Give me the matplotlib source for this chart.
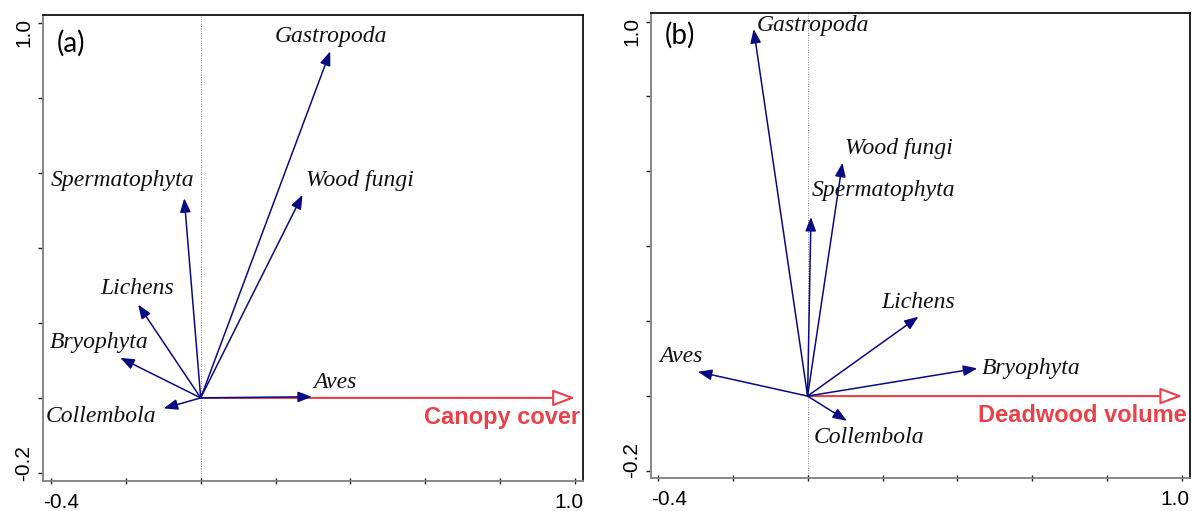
import matplotlib
matplotlib.use("Agg")
import matplotlib.pyplot as plt
from matplotlib.patches import FancyArrowPatch
import matplotlib.transforms as mtransforms

# ---------------- data ----------------
species_a = ["Gastropoda", "Wood fungi", "Spermatophyta", "Lichens", "Bryophyta", "Collembola", "Aves"]
x_a = [0.346, 0.272, -0.044, -0.167, -0.215, -0.099, 0.297]
y_a = [0.925, 0.542, 0.533, 0.249, 0.107, -0.028, 0.003]
env_a = "Canopy cover"
env_a_xy = (1.0, 0.0)

species_b = ["Gastropoda", "Wood fungi", "Spermatophyta", "Lichens", "Bryophyta", "Aves", "Collembola"]
x_b = [-0.144, 0.093, 0.009, 0.296, 0.453, -0.293, 0.105]
y_b = [0.980, 0.623, 0.478, 0.212, 0.074, 0.065, -0.066]
env_b = "Deadwood volume"
env_b_xy = (1.0, 0.0)

panel_tags = ["(a)", "(b)"]
xtick_vals = [-0.4, -0.2, 0.0, 0.2, 0.4, 0.6, 0.8, 1.0]
ytick_vals = [-0.2, 0.0, 0.2, 0.4, 0.6, 0.8, 1.0]
xtick_labels = ["-0.4", "1.0"]
ytick_labels = ["-0.2", "1.0"]

# ---------------- layout (label positions) ----------------
lab_pos_a = {
    "Gastropoda": (0.349, 0.964), "Wood fungi": (0.426, 0.580),
    "Spermatophyta": (-0.208, 0.580), "Lichens": (-0.169, 0.292),
    "Bryophyta": (-0.270, 0.149), "Collembola": (-0.267, -0.049),
    "Aves": (0.359, 0.040),
}
lab_pos_b = {
    "Gastropoda": (0.014, 0.989), "Wood fungi": (0.244, 0.660),
    "Spermatophyta": (0.203, 0.549), "Lichens": (0.294, 0.250),
    "Bryophyta": (0.597, 0.074), "Aves": (-0.339, 0.107),
    "Collembola": (0.165, -0.111),
}

NAVY = "#0A0A82"
RED = "#E8414A"
GRAY = "#7F7F7F"

fig = plt.figure(figsize=(11.92, 5.11), dpi=100)
ax_a = fig.add_axes([0.0363, 0.0593, 0.4530, 0.9113])
ax_b = fig.add_axes([0.5459, 0.0640, 0.4524, 0.9100])


def draw(ax, species, xs, ys, labpos, env, env_xy, tag, xlim, ylim, tag_xy):
    ax.set_xlim(*xlim)
    ax.set_ylim(*ylim)
    ax.axvline(0, color="#888888", lw=0.7, ls=(0, (1, 1.5)), zorder=1)
    # environmental arrow
    arr = FancyArrowPatch((0, 0), env_xy, arrowstyle="-|>,head_length=0.8,head_width=0.3",
                          mutation_scale=17, lw=1.5, edgecolor=RED, facecolor="white",
                          shrinkA=0, shrinkB=0, zorder=2)
    ax.add_patch(arr)
    for name, x, y in zip(species, xs, ys):
        a = FancyArrowPatch((0, 0), (x, y), arrowstyle="-|>,head_length=0.7,head_width=0.27",
                            mutation_scale=12, lw=1.1, color=NAVY,
                            shrinkA=0, shrinkB=0, zorder=3)
        ax.add_patch(a)
        lx, ly = labpos[name]
        ax.text(lx, ly, name, family="Liberation Serif", style="italic", fontsize=17,
                ha="center", va="center", color="#111111", zorder=4)
    ax.text(1.013, -0.053, env, family="Liberation Sans", fontweight="bold", fontsize=17,
            color=RED, ha="right", va="center", zorder=4)
    ax.text(tag_xy[0], tag_xy[1], tag, family="Lato", fontsize=20, ha="left", va="center")

    ax.set_xticks(xtick_vals)
    ax.set_yticks(ytick_vals)
    ax.set_xticklabels([])
    ax.set_yticklabels([])
    ax.tick_params(axis="x", direction="inout", length=5, width=1.0, color="#222222")
    ax.tick_params(axis="y", direction="out", length=3.5, width=1.0, color="#222222")
    for s in ["left", "bottom"]:
        ax.spines[s].set_color(GRAY)
        ax.spines[s].set_linewidth(1.3)
    for s in ["top", "right"]:
        ax.spines[s].set_color("#111111")
        ax.spines[s].set_linewidth(1.3)

    # tick labels aligned to frame edges
    tx = mtransforms.blended_transform_factory(ax.transAxes, ax.transAxes)
    ax.text(0.0, -0.026, xtick_labels[0], transform=tx, ha="left", va="top",
            family="Liberation Sans", fontsize=15)
    ax.text(1.0, -0.026, xtick_labels[1], transform=tx, ha="right", va="top",
            family="Liberation Sans", fontsize=15)
    ax.text(-0.018, 0.0, ytick_labels[0], transform=tx, ha="right", va="bottom",
            rotation=90, family="Liberation Sans", fontsize=15)
    ax.text(-0.018, 0.993, ytick_labels[1], transform=tx, ha="right", va="top",
            rotation=90, family="Liberation Sans", fontsize=15)


draw(ax_a, species_a, x_a, y_a, lab_pos_a, env_a, env_a_xy, panel_tags[0],
     (-0.4206, 1.022), (-0.221, 1.022), (-0.384, 0.947))
draw(ax_b, species_b, x_b, y_b, lab_pos_b, env_b, env_b_xy, panel_tags[1],
     (-0.4187, 1.0206), (-0.2195, 1.022), (-0.381, 0.964))

fig.savefig("out.png", dpi=100)
